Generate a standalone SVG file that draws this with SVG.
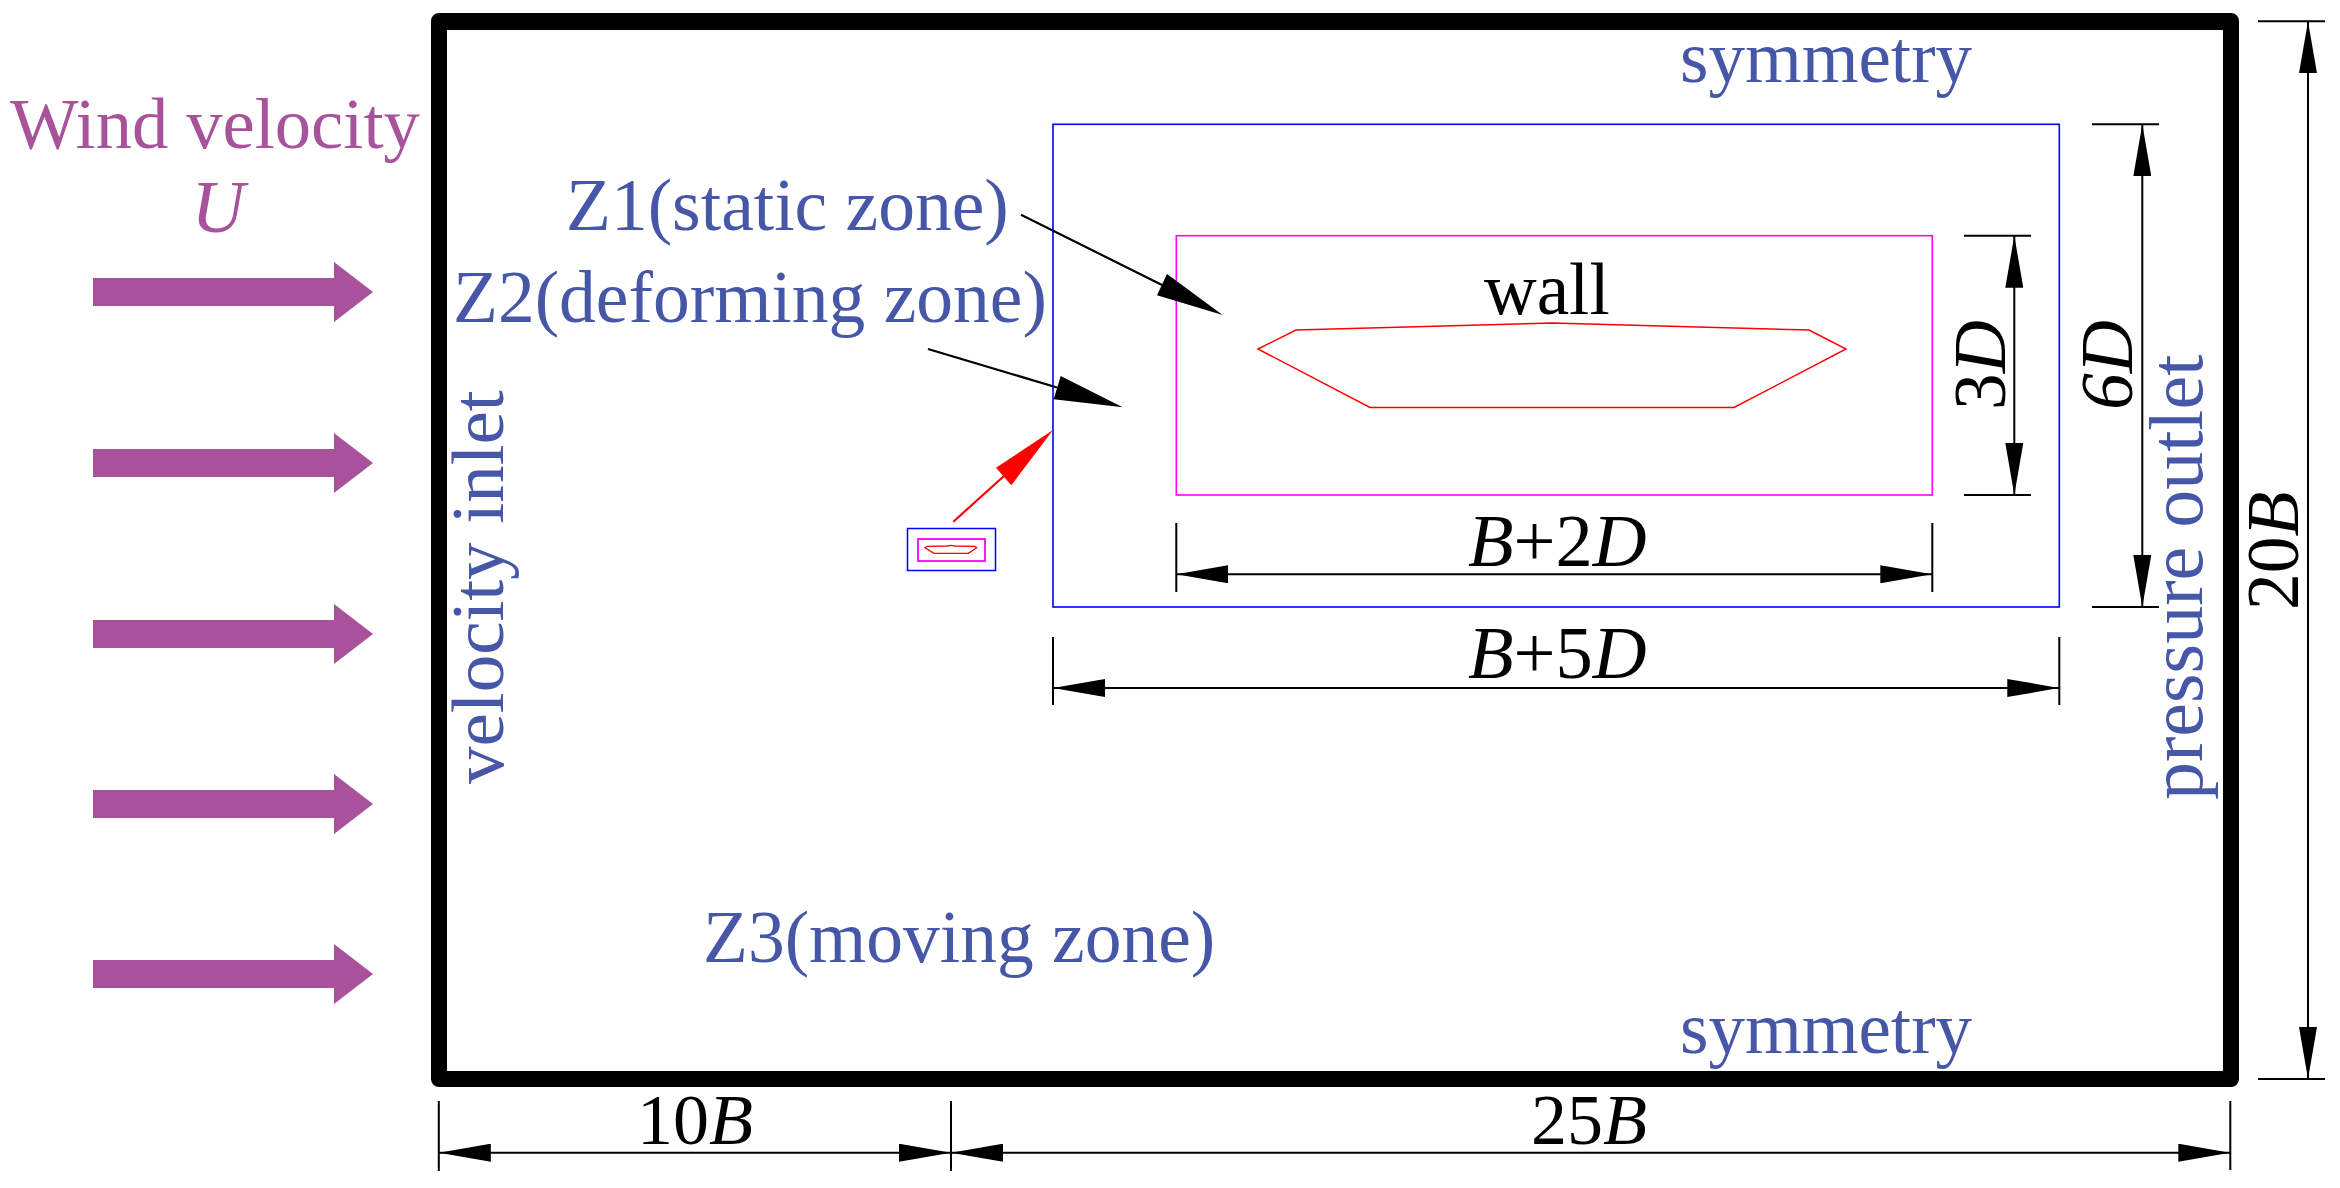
<svg xmlns="http://www.w3.org/2000/svg" width="2340" height="1188" viewBox="0 0 2340 1188">
<style>
text{font-family:"Liberation Serif","Times New Roman",serif;font-size:73.500px}
.b{fill:#4757a7}.p{fill:#a9529c}.k{fill:#000}
.dim{stroke:#000;stroke-width:2;fill:none}
.i{font-style:italic}
.s{font-size:72px}
</style>
<defs>
<marker id="ah" viewBox="0 0 52 18" refX="52" refY="9" markerUnits="userSpaceOnUse" markerWidth="52" markerHeight="18" orient="auto-start-reverse"><path d="M0 0L52 9L0 18Z" fill="#000"/></marker>
<polygon id="wind" points="93,-14 334,-14 334,-30 373,0 334,30 334,14 93,14" fill="#a9529c"/>
</defs>
<rect width="2340" height="1188" fill="#fff"/>
<g id="frame"><path fill-rule="evenodd" d="M439 13H2231a8 8 0 0 1 8 8V1079a8 8 0 0 1-8 8H439a8 8 0 0 1-8-8V21a8 8 0 0 1 8-8ZM447 30V1071H2223V30Z"/></g>
<g id="wind-arrows">
<use href="#wind" y="292"/><use href="#wind" y="463"/><use href="#wind" y="634"/><use href="#wind" y="804"/><use href="#wind" y="974"/>
</g>
<g id="outer-zone"><rect x="1053" y="124.300" width="1006.300" height="482.700" fill="none" stroke="#0000ff" stroke-width="1.600"/></g>
<g id="inner-zone"><rect x="1176.300" y="235.700" width="756" height="259.300" fill="none" stroke="#ff00ff" stroke-width="1.600"/></g>
<g id="deck"><polygon points="1258,349 1296,330 1552,323 1809,330 1846,349 1734,407.500 1370,407.500" fill="none" stroke="#ff0000" stroke-width="1.500"/></g>
<g id="mini">
<rect x="907.500" y="528.500" width="88" height="42" fill="none" stroke="#0000ff" stroke-width="1.500"/>
<rect x="918" y="539" width="67" height="22" fill="none" stroke="#ff00ff" stroke-width="1.800"/>
<polygon points="925,547.700 927.300,546.300 947,546 951,545.300 955,546 975,546.300 976.700,547.700 968.300,553.300 934,553.300" fill="none" stroke="#ff0000" stroke-width="1.300"/>
</g>
<g id="connectors">
<path class="dim" d="M438.800 1101V1171M951 1101V1171M2230.300 1101V1170"/>
<line class="dim" x1="438.800" y1="1152.700" x2="951" y2="1152.700" marker-start="url(#ah)" marker-end="url(#ah)"/>
<line class="dim" x1="951" y1="1152.700" x2="2230.300" y2="1152.700" marker-start="url(#ah)" marker-end="url(#ah)"/>
<path class="dim" d="M1053 637V705M2059.300 637V705"/>
<line class="dim" x1="1053" y1="688" x2="2059.300" y2="688" marker-start="url(#ah)" marker-end="url(#ah)"/>
<path class="dim" d="M1176.300 523V592M1932.300 523V592"/>
<line class="dim" x1="1176.300" y1="574.300" x2="1932.300" y2="574.300" marker-start="url(#ah)" marker-end="url(#ah)"/>
<path class="dim" d="M1964 235.700H2031M1964 495H2031"/>
<line class="dim" x1="2014.300" y1="235.700" x2="2014.300" y2="495" marker-start="url(#ah)" marker-end="url(#ah)"/>
<path class="dim" d="M2092 124.300H2159M2092 607H2159"/>
<line class="dim" x1="2142.300" y1="124.300" x2="2142.300" y2="607" marker-start="url(#ah)" marker-end="url(#ah)"/>
<path class="dim" d="M2258 21.300H2325M2258 1079H2325"/>
<line class="dim" x1="2308" y1="21.300" x2="2308" y2="1079" marker-start="url(#ah)" marker-end="url(#ah)"/>
<line x1="1021" y1="214.700" x2="1162" y2="285" stroke="#000" stroke-width="2.200"/>
<polygon points="1222.700,315 1157,295.300 1167,274" fill="#000"/>
<line x1="928" y1="349" x2="1057" y2="387.500" stroke="#000" stroke-width="2.200"/>
<polygon points="1122.700,407.300 1053.700,399.300 1060.700,376" fill="#000"/>
<line x1="953.300" y1="521.700" x2="1004" y2="476" stroke="#ff0000" stroke-width="2.200"/>
<polygon points="1053,430 996,467.700 1011.300,485.300" fill="#ff0000"/>
</g>
<g id="labels">
<text class="p" style="font-size:72.500px" x="10" y="148">Wind velocity</text>
<text class="p i" x="218" y="232" text-anchor="middle">U</text>
<text class="b" style="font-size:73px" x="1680" y="82">symmetry</text>
<text class="b" style="font-size:73px" x="1680" y="1053">symmetry</text>
<text class="b" x="566" y="230">Z1(static zone)</text>
<text class="b" x="453" y="322">Z2(deforming zone)</text>
<text class="b" x="703" y="962">Z3(moving zone)</text>
<text class="k" style="font-size:73px" x="1484" y="314">wall</text>
<text class="b" style="font-size:75px" transform="translate(503 784) rotate(-90)">velocity inlet</text>
<text class="b" style="font-size:76px" transform="translate(2202 800) rotate(-90)">pressure outlet</text>
<text class="k" transform="translate(2298 610) rotate(-90)">20<tspan class="i">B</tspan></text>
<text class="k" transform="translate(2005 410) rotate(-90)">3<tspan class="i">D</tspan></text>
<text class="k" transform="translate(2132 410) rotate(-90)"><tspan class="i">6D</tspan></text>
<text class="k" style="font-size:74.500px" x="1468" y="566"><tspan class="i">B</tspan>+2<tspan class="i">D</tspan></text>
<text class="k" style="font-size:74.500px" x="1468" y="678"><tspan class="i">B</tspan>+5<tspan class="i">D</tspan></text>
<text class="k s" x="637" y="1144">10<tspan class="i">B</tspan></text>
<text class="k s" x="1531" y="1144">25<tspan class="i">B</tspan></text>
</g>
</svg>
